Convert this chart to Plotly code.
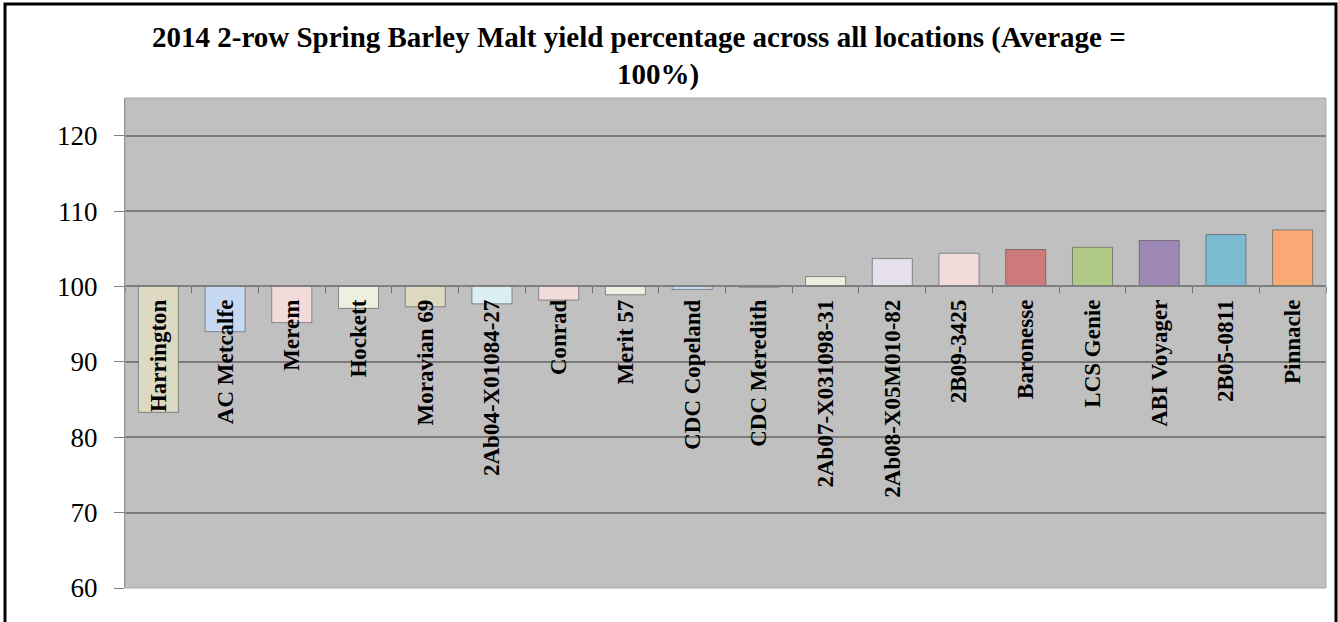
import plotly.graph_objects as go

categories = ["Harrington", "AC Metcalfe", "Merem", "Hockett", "Moravian 69",
              "2Ab04-X01084-27", "Conrad", "Merit 57", "CDC Copeland", "CDC Meredith",
              "2Ab07-X031098-31", "2Ab08-X05M010-82", "2B09-3425", "Baronesse",
              "LCS Genie", "ABI Voyager", "2B05-0811", "Pinnacle"]
yield_pct = [83.3, 94.0, 95.2, 97.1, 97.3, 97.7, 98.2, 98.9, 99.6, 99.9,
             101.3, 103.7, 104.4, 104.9, 105.2, 106.1, 106.9, 107.5]
bar_colors = ["#DDD9C3", "#C6D9F1", "#F2DCDB", "#EBF1DE", "#DDD8C0", "#DBEEF4",
              "#F2DCDB", "#EBF1DE", "#C6D9F1", "#DDD9C3", "#EBF1DE", "#E5E0EC",
              "#F2DCDB", "#CC7B7A", "#B0C985", "#9E88B5", "#7BBBD1", "#F8A974"]
average = 100
y_ticks = [60, 70, 80, 90, 100, 110, 120]

W, H = 1338, 622
L, R, T, B = 125, 12, 98, 34
pw, ph = W - L - R, H - T - B
ymin, ymax = 60, 125

def px_x(p):
    return (p - L) / pw

def px_y(p):
    return (H - B - p) / ph

serif = "Liberation Serif, Times New Roman, serif"

fig = go.Figure(go.Bar(
    x=categories,
    y=[v - average for v in yield_pct],
    base=average,
    marker=dict(color=bar_colors, line=dict(color="rgba(70,70,70,0.55)", width=1)),
    width=0.6,
    hovertext=[f"{c}: {v}" for c, v in zip(categories, yield_pct)],
))

fig.update_layout(
    width=W, height=H,
    margin=dict(l=L, r=R, t=T, b=B),
    paper_bgcolor="white",
    plot_bgcolor="#C0C0C0",
    showlegend=False,
    xaxis=dict(
        anchor="free",
        position=(average - ymin) / (ymax - ymin),
        showline=True, linecolor="#7F7F7F", linewidth=2,
        ticks="outside", tickson="boundaries", ticklen=6, tickcolor="#6F6F6F", tickwidth=1,
        tickangle=-90,
        tickfont=dict(family=serif, size=23, color="black", weight="bold"),
        ticklabelstandoff=3,
        showgrid=False,
    ),
    yaxis=dict(
        range=[ymin, ymax],
        tickvals=y_ticks,
        showgrid=True, gridcolor="#7A7A7A", gridwidth=2,
        zeroline=False,
        showline=True, linecolor="#808080", linewidth=1,
        ticks="outside", ticklen=10, tickcolor="#808080",
        ticklabelstandoff=11,
        tickfont=dict(family=serif, size=27, color="black"),
    ),
)

# plot area border
fig.add_shape(type="rect", xref="paper", yref="paper", x0=0, x1=1, y0=0, y1=1,
              line=dict(color="#A8A8A8", width=1), layer="above")
# outer frame
fig.add_shape(type="rect", xref="paper", yref="paper",
              x0=px_x(5), x1=px_x(1336), y0=px_y(640), y1=px_y(4),
              line=dict(color="black", width=3), layer="above")

fig.add_annotation(text="<b>2014 2-row Spring Barley Malt yield percentage across all locations (Average =</b>",
                   xref="paper", yref="paper", x=px_x(639), y=px_y(37),
                   xanchor="center", yanchor="middle", showarrow=False,
                   font=dict(family=serif, size=29, color="black"))
fig.add_annotation(text="<b>100%)</b>",
                   xref="paper", yref="paper", x=px_x(658), y=px_y(74),
                   xanchor="center", yanchor="middle", showarrow=False,
                   font=dict(family=serif, size=29, color="black"))

fig.write_html("out.html", config={"displayModeBar": False},
               post_script="document.body.style.margin='0';document.body.style.overflow='hidden';")
